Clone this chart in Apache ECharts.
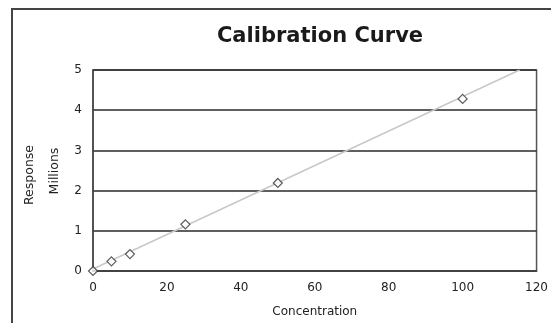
<!DOCTYPE html>
<html>
<head>
<meta charset="utf-8">
<script src="https://cdn.jsdelivr.net/npm/echarts@6/dist/echarts.min.js"></script>
<style>
  html, body { margin: 0; padding: 0; background: #fff; }
  #chart { width: 551px; height: 323px; }
</style>
</head>
<body>
<div id="chart"></div>
<script>
// Calibration standards: concentration vs. detector response (millions)
var concentration = [0, 5, 10, 25, 50, 100];
var response = [0, 0.24, 0.42, 1.16, 2.19, 4.28];

// Linear trendline end points
var trendX = [0, 115.4];
var trendY = [0.05, 5];

// Axis ticks
var xTicks = [0, 20, 40, 60, 80, 100, 120];
var yTicks = [0, 1, 2, 3, 4, 5];

var FONT = '"DejaVu Sans", Verdana, sans-serif';

var chart = echarts.init(document.getElementById('chart'), null, { renderer: 'canvas' });

chart.setOption({
  backgroundColor: '#ffffff',
  animation: false,
  title: {
    text: 'Calibration Curve',
    left: 315,
    top: 21,
    textAlign: 'center',
    textStyle: { fontFamily: FONT, fontSize: 21, fontWeight: 'bold', color: '#1a1a1a' }
  },
  grid: { left: 93, right: 13, top: 70, bottom: 52, show: true, borderColor: '#555', borderWidth: 1.5, backgroundColor: 'transparent' },
  xAxis: {
    type: 'value',
    min: xTicks[0],
    max: xTicks[xTicks.length - 1],
    interval: xTicks[1] - xTicks[0],
    name: 'Concentration',
    nameLocation: 'middle',
    nameGap: 35,
    nameTextStyle: { fontFamily: FONT, fontSize: 12, color: '#222' },
    axisLine: { show: true, lineStyle: { color: '#444', width: 1.5 } },
    axisTick: { show: false },
    splitLine: { show: false },
    axisLabel: { fontFamily: FONT, fontSize: 12, color: '#222', margin: 11 }
  },
  yAxis: {
    type: 'value',
    min: yTicks[0],
    max: yTicks[yTicks.length - 1],
    interval: yTicks[1] - yTicks[0],
    axisLine: { show: true, lineStyle: { color: '#444', width: 1.5 } },
    axisTick: { show: false },
    splitLine: { show: true, lineStyle: { color: '#2a2a2a', width: 1.6 } },
    axisLabel: { fontFamily: FONT, fontSize: 12, color: '#222', margin: 11 }
  },
  graphic: [
    {
      type: 'rect',
      shape: { x: 12, y: 9, width: 560, height: 330 },
      style: { fill: 'none', stroke: '#444', lineWidth: 2 },
      z: 100
    },
    {
      type: 'text',
      x: 30, y: 175,
      rotation: Math.PI / 2,
      style: { text: 'Response', font: '12.5px ' + FONT, fill: '#222', textAlign: 'center', textVerticalAlign: 'middle' }
    },
    {
      type: 'text',
      x: 55, y: 171,
      rotation: Math.PI / 2,
      style: { text: 'Millions', font: '12.5px ' + FONT, fill: '#222', textAlign: 'center', textVerticalAlign: 'middle' }
    }
  ],
  series: [
    {
      type: 'line',
      data: trendX.map(function (x, i) { return [x, trendY[i]]; }),
      symbol: 'none',
      lineStyle: { color: '#c8c8c8', width: 1.5 },
      z: 3
    },
    {
      type: 'scatter',
      data: concentration.map(function (x, i) { return [x, response[i]]; }),
      symbol: 'diamond',
      symbolSize: [9, 9],
      itemStyle: { color: '#ffffff', borderColor: '#333', borderWidth: 1.2 },
      z: 4
    }
  ]
});
</script>
</body>
</html>
